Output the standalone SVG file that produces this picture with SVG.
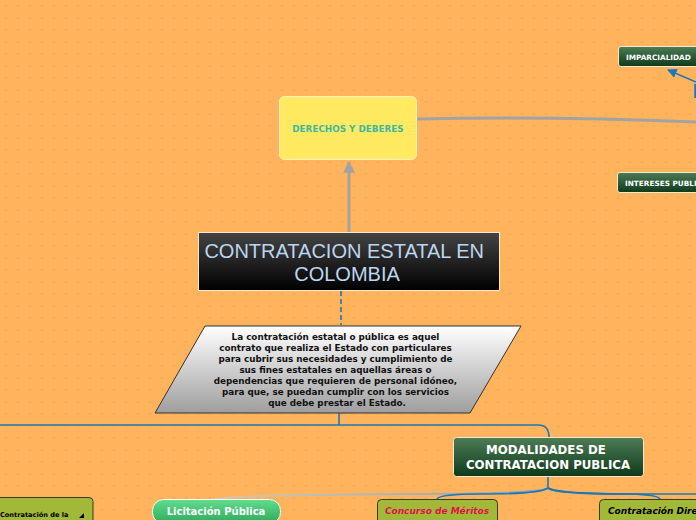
<svg xmlns="http://www.w3.org/2000/svg" width="696" height="520" viewBox="0 0 696 520">
<style>
.dg{fill:url(#gGreen);stroke:#f4e8d0;stroke-width:1}
.wt{font-family:"DejaVu Sans",Verdana,sans-serif;font-weight:bold;fill:#fff}
.blue{fill:none;stroke:#1a78b8;stroke-width:1.6}
.gray{fill:none;stroke:#a3a3a3;stroke-width:3}
.olive{fill:#a2b838;stroke:#3a3a20;stroke-width:1}
</style>
<defs>
<pattern id="dots" width="12" height="12" patternUnits="userSpaceOnUse">
<path d="M5 6h2M6 5v2" stroke="#e89e50" stroke-width="0.6" opacity="0.7"/>
</pattern>
<linearGradient id="gGreen" x1="0" y1="0" x2="0" y2="1">
<stop offset="0" stop-color="#4d7c55"/><stop offset="1" stop-color="#0e3a1b"/>
</linearGradient>
<linearGradient id="gBlack" x1="0" y1="0" x2="0" y2="1">
<stop offset="0" stop-color="#444"/><stop offset="1" stop-color="#000"/>
</linearGradient>
<linearGradient id="gPara" x1="0" y1="0" x2="0" y2="1">
<stop offset="0" stop-color="#ffffff"/><stop offset="1" stop-color="#9e9e9e"/>
</linearGradient>
<linearGradient id="gLic" x1="0" y1="0" x2="0" y2="1">
<stop offset="0" stop-color="#62dc8e"/><stop offset="1" stop-color="#2eaa5a"/>
</linearGradient>
<linearGradient id="gGrayLine" x1="0" y1="0" x2="1" y2="0">
<stop offset="0" stop-color="#d8c8b0"/><stop offset="1" stop-color="#8aa0b8"/>
</linearGradient>
<marker id="arB" viewBox="0 0 10 10" refX="9" refY="5" markerWidth="6" markerHeight="6" orient="auto-start-reverse">
<path d="M0 0L10 5L0 10z" fill="#1a78b8"/>
</marker>
<marker id="arG" viewBox="0 0 10 10" refX="9" refY="5" markerWidth="4" markerHeight="4" orient="auto">
<path d="M0 0L10 5L0 10z" fill="#a3a3a3"/>
</marker>
</defs>
<rect width="696" height="520" fill="#ffb35c"/>
<rect width="696" height="520" fill="url(#dots)"/>

<g id="connectors">
<path class="blue" d="M696 82 L668 70" marker-end="url(#arB)"/>
<path d="M695.5 84 V98" stroke="#1a78b8" stroke-width="2.5" fill="none"/>
<path class="gray" d="M417 119 Q550 116 696 122"/>
<path class="gray" d="M349 232 V162" marker-end="url(#arG)"/>
<path class="blue" d="M341 291 V325" stroke-dasharray="5 3"/>
<path class="blue" d="M339 413 V425 M0 425 H538 Q549 425 549 437"/>
<path class="blue" d="M548 477 V488"/>
<path d="M548 488 Q540 494 400 494 Q240 495 215 499" fill="none" stroke="url(#gGrayLine)" stroke-width="1.8"/>
<path class="blue" d="M548 488 Q540 494 480 494 Q440 494 437 499"/>
<path class="blue" d="M548 488 Q556 494 620 494 Q657 494 660 499"/>
<path class="blue" d="M548 488 Q556 494 640 494 H696"/>
</g>

<g id="imparcialidad">
<rect class="dg" x="618.5" y="46.5" width="90" height="20" rx="2.5"/>
<text class="wt" x="626" y="59.5" font-size="7.3">IMPARCIALIDAD</text>
</g>
<g id="intereses">
<rect class="dg" x="617.5" y="172.5" width="90" height="20" rx="2.5"/>
<text class="wt" x="625" y="185.5" font-size="7.3">INTERESES PUBLICOS</text>
</g>
<g id="derechos">
<rect x="279.5" y="96.5" width="137" height="63" rx="5" fill="#ffea62" stroke="#fff4c0" stroke-width="1"/>
<text x="348" y="132" font-family="DejaVu Sans,Verdana,sans-serif" font-weight="bold" font-size="8.8" fill="#3cb8a0" text-anchor="middle">DERECHOS Y DEBERES</text>
</g>
<g id="central">
<rect x="198.5" y="232.5" width="301" height="58" fill="url(#gBlack)" stroke="#f8e8d0" stroke-width="1"/>
<text font-family="Liberation Sans,Arial,sans-serif" font-size="20" fill="#bcd6ee" text-anchor="middle">
<tspan x="347" y="258">CONTRATACION ESTATAL EN</tspan>
<tspan x="347" y="281">COLOMBIA</tspan>
</text>
</g>
<g id="definicion">
<path d="M205 326 H521 L470 413 H155 Z" fill="url(#gPara)" stroke="#333" stroke-width="1"/>
<text font-family="DejaVu Sans,Verdana,sans-serif" font-weight="bold" font-size="8.8" fill="#111" text-anchor="middle">
<tspan x="337" y="340">La contratación estatal o pública es aquel</tspan>
<tspan x="337" y="351">contrato que realiza el Estado con particulares</tspan>
<tspan x="337" y="362">para cubrir sus necesidades y cumplimiento de</tspan>
<tspan x="337" y="373">sus fines estatales en aquellas áreas o</tspan>
<tspan x="337" y="384">dependencias que requieren de personal idóneo,</tspan>
<tspan x="337" y="395">para que, se puedan cumplir con los servicios</tspan>
<tspan x="337" y="406">que debe prestar el Estado.</tspan>
</text>
</g>
<g id="modalidades">
<rect class="dg" x="453.5" y="437.5" width="190" height="39" rx="3"/>
<text class="wt" font-size="11.8" text-anchor="middle">
<tspan x="548" y="454">MODALIDADES DE</tspan>
<tspan x="548" y="469">CONTRATACION PUBLICA</tspan>
</text>
</g>
<g id="contratacion-de-la">
<rect class="olive" x="-6" y="497.5" width="99" height="30" rx="4"/>
<text x="0" y="517" font-family="DejaVu Sans,Verdana,sans-serif" font-weight="bold" font-size="6.6" fill="#000">Contratación de la</text>
<path d="M79 518 L84 513 V518 Z" fill="#000"/>
</g>
<g id="licitacion">
<rect x="152.5" y="499.5" width="128" height="24" rx="11" fill="url(#gLic)" stroke="#f0fff0" stroke-width="1"/>
<text class="wt" x="216" y="514.5" font-size="10" text-anchor="middle">Licitación Pública</text>
</g>
<g id="concurso">
<rect class="olive" x="377.5" y="499.5" width="120" height="30" rx="4"/>
<text x="437" y="514" font-family="DejaVu Sans,Verdana,sans-serif" font-weight="bold" font-style="italic" font-size="9" fill="#e0104c" text-anchor="middle">Concurso de Méritos</text>
</g>
<g id="directa">
<rect class="olive" x="599.5" y="499.5" width="110" height="30" rx="4"/>
<text x="608" y="514" font-family="DejaVu Sans,Verdana,sans-serif" font-weight="bold" font-style="italic" font-size="9" fill="#000">Contratación Directa</text>
</g>
</svg>
